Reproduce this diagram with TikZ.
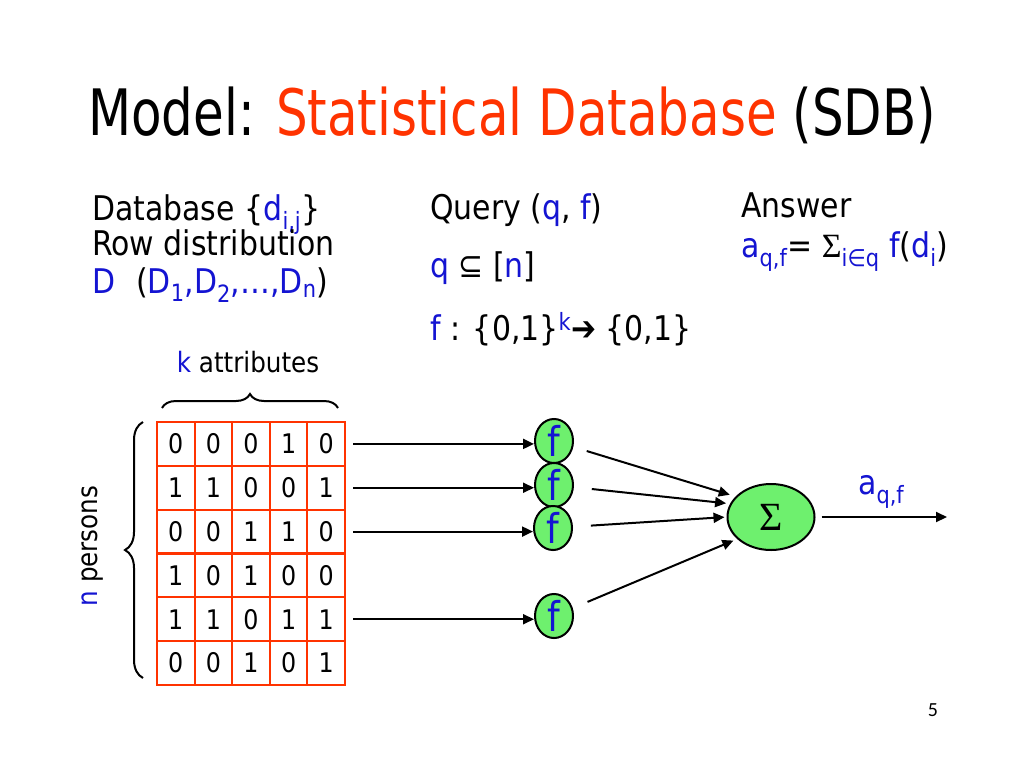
\documentclass[tikz,border=0pt]{standalone}
\usepackage{fontspec}
\setmainfont{DejaVu Sans}[FakeStretch=0.88]
\newfontfamily\titlefont{DejaVu Sans}[FakeStretch=0.78]
\newfontfamily\sigmafont{Liberation Serif}
\newfontfamily\pagefont{Carlito}
\usepackage{xcolor}
\usepackage{tikz}
\usetikzlibrary{shapes.geometric,decorations.pathreplacing,arrows.meta}

\definecolor{sdbblue}{RGB}{20,20,210}
\definecolor{sdbred}{RGB}{255,51,0}
\definecolor{sdbgreen}{RGB}{110,240,110}

\newcommand{\bl}[1]{\textcolor{sdbblue}{#1}}
\newcommand{\idx}[1]{\textsubscript{#1}}
\newcommand{\pow}[1]{\textsuperscript{#1}}

\tikzset{
  txt/.style={anchor=base west, inner sep=0pt, font=\fontsize{34}{40}\selectfont},
  cell/.style={draw=sdbred, line width=2pt, minimum width=37.6pt, minimum height=43.8pt,
    inner sep=0pt, font=\fontsize{27}{27}\selectfont},
  fnode/.style={ellipse, draw, line width=2pt, fill=sdbgreen, minimum width=38pt,
    minimum height=43pt, inner sep=0pt, text=sdbblue, font=\fontsize{41}{41}\selectfont},
  signode/.style={ellipse, draw, line width=2pt, fill=sdbgreen, minimum width=87pt,
    minimum height=66pt, inner sep=0pt, font=\sigmafont\fontsize{40}{40}\selectfont},
  arr/.style={-{Triangle[length=11pt,width=10pt]}, line width=2pt},
  bracestyle/.style={decorate, line width=2pt}
}

\begin{document}
\begin{tikzpicture}[x=1pt,y=-1pt]

    \useasboundingbox[fill=white] (0,0) rectangle (1024,768);

    % title
    \node[anchor=base west, inner sep=0pt, font=\titlefont\fontsize{64}{64}\selectfont] (title) at (88,135)
      {Model: \textcolor{sdbred}{Statistical Database} (SDB)};

    % three columns of text
    \node[txt] (db)   at (92,220) {Database \{\bl{d\idx{i,j}}\}};
    \node[txt] (rowd) at (92,255) {Row distribution};
    \node[txt] (dist) at (92,293) {\bl{D}\,\, (\bl{D\idx{1},D\idx{2},…,D\idx{n}})};

    \node[txt] (qry)  at (430,219) {Query (\bl{q}, \bl{f})};
    \node[txt] (qsub) at (430,277) {\bl{q} ⊆ [\bl{n}]};
    \node[txt] (fmap) at (430,340) {\bl{f} : \{0,1\}\pow{\bl{k}}➔ \{0,1\}};

    \node[txt] (ans)   at (741,217) {Answer};
    \node[txt] (aform) at (741,257) {\bl{a\idx{q,f}}= {\sigmafont Σ}\idx{\bl{i∈q}} \bl{f}(\bl{d\idx{i}})};

    % the database table
    \foreach \r/\vals in {1/{0,0,0,1,0},2/{1,1,0,0,1},3/{0,0,1,1,0},
                          4/{1,0,1,0,0},5/{1,1,0,1,1},6/{0,0,1,0,1}}
      \foreach \v [count=\c] in \vals
        \node[cell] (c\r\c) at ({157+37.6*(\c-0.5)},{422+43.83*(\r-0.5)}) {\v};

    % braces
    \coordinate (kl) at (162,408);
    \coordinate (kr) at (338,408);
    \draw[bracestyle, decoration={brace, amplitude=14pt}] (kl) -- (kr);
    \node[font=\fontsize{28}{28}\selectfont] (katt) at (248,362) {\bl{k} attributes};

    \coordinate (nb) at (143,678);
    \coordinate (nt) at (143,422);
    \draw[bracestyle, decoration={brace, amplitude=18pt}] (nb) -- (nt);
    \node[rotate=90, font=\fontsize{28}{28}\selectfont] (npers) at (93,546) {\bl{n} persons};

    % f nodes and the sum
    \node[fnode] (f1) at (554,441) {f};
    \node[fnode] (f2) at (554,485) {f};
    \node[fnode] (f3) at (553,528) {f};
    \node[fnode] (f5) at (554,616) {f};
    \node[signode] (sig) at (771,517) {Σ};

    \foreach \r in {1,2,3,5}
      \draw[arr, shorten <=7pt] (c\r5.east) -- (c\r5.east -| f\r.west);

    \draw[arr, shorten <=14pt, shorten >=6pt] (f1) -- (sig.150);
    \draw[arr, shorten <=18pt, shorten >=4pt] (f2) -- (sig.162);
    \draw[arr, shorten <=18pt, shorten >=2pt] (f3) -- (sig.180);
    \draw[arr, shorten <=16pt, shorten >=4pt] (f5) -- (sig.213);

    \coordinate (out) at (947,517);
    \draw[arr, shorten <=6pt] (sig.east) -- node[above=4pt, font=\fontsize{34}{34}\selectfont, text=sdbblue] (alab) {a\idx{q,f}} (out);

    \node[font=\pagefont\fontsize{20}{20}\selectfont] (pg) at (933,710) {5};

\end{tikzpicture}
\end{document}
